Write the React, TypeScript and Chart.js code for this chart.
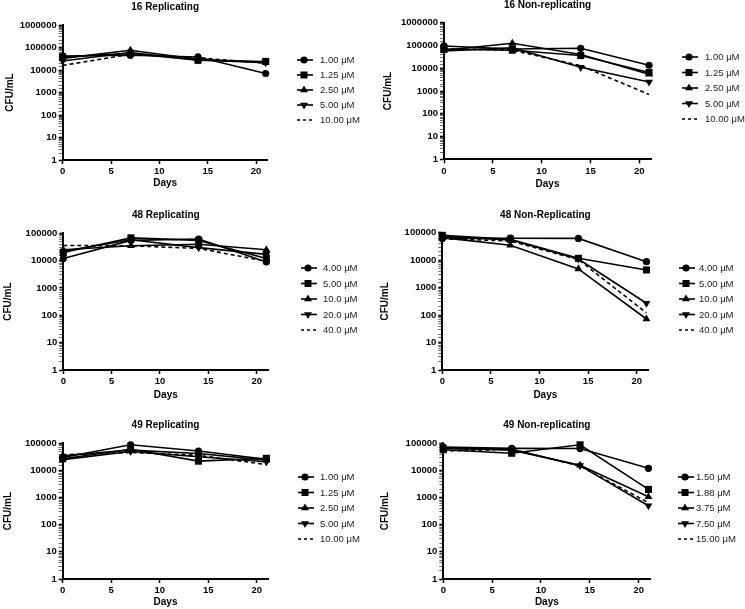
import React, { useEffect, useRef } from 'react';
import { Chart, registerables } from 'chart.js';

Chart.register(...registerables);

// ---------- data ----------
const DAYS = [0, 7, 14, 21];
const X_TICKS = [0, 5, 10, 15, 20];

const CONC_16 = ['1.00 μM', '1.25 μM', '2.50 μM', '5.00 μM', '10.00 μM'];
const CONC_48 = ['4.00 μM', '5.00 μM', '10.0 μM', '20.0 μM', '40.0 μM'];
const CONC_49R = ['1.00 μM', '1.25 μM', '2.50 μM', '5.00 μM', '10.00 μM'];
const CONC_49N = ['1.50 μM', '1.88 μM', '3.75 μM', '7.50 μM', '15.00 μM'];

// CFU/mL at days 0, 7, 14, 21 (one row per concentration)
const REP_16 = [
  [42000, 45000, 38000, 7000],
  [38000, 55000, 27000, 24000],
  [33000, 75000, 30000, 22000],
  [25000, 60000, 28000, 21000],
  [16000, 50000, 35000, 20000],
];
const NONREP_16 = [
  [95000, 70000, 75000, 13500],
  [70000, 62000, 36000, 6500],
  [62000, 125000, 40000, 5500],
  [58000, 78000, 11000, 2500],
  [72000, 62000, 13000, 700],
];
const REP_48 = [
  [12000, 55000, 62000, 9000],
  [20000, 68000, 55000, 12000],
  [25000, 35000, 40000, 25000],
  [22000, 58000, 30000, 17000],
  [36000, 35000, 28000, 9500],
];
const NONREP_48 = [
  [62000, 63000, 62000, 8800],
  [80000, 58000, 11700, 4400],
  [66000, 35000, 4800, 72],
  [72000, 55000, 11000, 270],
  [60000, 50000, 10500, 120],
];
const REP_49 = [
  [30000, 88000, 52000, 26000],
  [27000, 60000, 22000, 28000],
  [35000, 56000, 42000, 24000],
  [25000, 50000, 32000, 21000],
  [38000, 46000, 36000, 16500],
];
const NONREP_49 = [
  [72000, 65000, 64000, 12000],
  [58000, 43000, 88000, 2000],
  [68000, 56000, 15500, 1070],
  [63000, 60000, 15000, 500],
  [52000, 60000, 14500, 650],
];

const Y_MAX_16 = 1000000;
const Y_MAX_48 = 100000;
const Y_MAX_49 = 100000;

// ---------- layout / style ----------
const FONT = '"Liberation Sans", Arial, Helvetica, sans-serif';
const STYLES = [
  { pointStyle: 'circle', radius: 3.6, rotation: 0, dash: [] as number[] },
  { pointStyle: 'rect', radius: 5, rotation: 0, dash: [] as number[] },
  { pointStyle: 'triangle', radius: 4.6, rotation: 0, dash: [] as number[] },
  { pointStyle: 'triangle', radius: 4.6, rotation: 180, dash: [] as number[] },
  { pointStyle: 'circle', radius: 0, rotation: 0, dash: [4, 3] },
];

type Panel = {
  title: string;
  box: [number, number, number, number]; // x, y, w, h
  area: [number, number, number, number]; // l, t, r, b (page px)
  yMax: number;
  labels: string[];
  series: number[][];
  legend: { lx: number; tx: number; y0: number; dy: number };
  titleY: number;
  daysY: number;
  cfuX: number;
};

const PANELS: Panel[] = [
  {
    title: '16 Replicating', box: [0, 0, 370, 200], area: [62.7, 25, 267.6, 160],
    yMax: Y_MAX_16, labels: CONC_16, series: REP_16,
    legend: { lx: 297, tx: 320, y0: 60, dy: 15 }, titleY: 7, daysY: 183, cfuX: 10,
  },
  {
    title: '16 Non-replicating', box: [370, 0, 375, 200], area: [444, 22.7, 651, 159.3],
    yMax: Y_MAX_16, labels: CONC_16, series: NONREP_16,
    legend: { lx: 682, tx: 705, y0: 57, dy: 15.5 }, titleY: 5, daysY: 184, cfuX: 388,
  },
  {
    title: '48 Replicating', box: [0, 200, 370, 200], area: [63.3, 233.3, 268.3, 370],
    yMax: Y_MAX_48, labels: CONC_48, series: REP_48,
    legend: { lx: 301, tx: 323, y0: 268, dy: 15.5 }, titleY: 215, daysY: 395, cfuX: 8,
  },
  {
    title: '48 Non-Replicating', box: [370, 200, 375, 200], area: [442.3, 232.7, 648.4, 370],
    yMax: Y_MAX_48, labels: CONC_48, series: NONREP_48,
    legend: { lx: 679, tx: 699, y0: 268, dy: 15.5 }, titleY: 215, daysY: 395, cfuX: 385,
  },
  {
    title: '49 Replicating', box: [0, 400, 370, 209], area: [62.7, 443.3, 268.3, 579],
    yMax: Y_MAX_49, labels: CONC_49R, series: REP_49,
    legend: { lx: 298, tx: 320, y0: 477, dy: 15.5 }, titleY: 425, daysY: 602, cfuX: 8,
  },
  {
    title: '49 Non-replicating', box: [370, 400, 375, 209], area: [443.3, 443.3, 650.4, 579],
    yMax: Y_MAX_49, labels: CONC_49N, series: NONREP_49,
    legend: { lx: 678, tx: 696, y0: 477, dy: 15.5 }, titleY: 425, daysY: 602, cfuX: 385,
  },
];

const isPow10 = (v: number) => {
  const l = Math.log10(v);
  return Math.abs(l - Math.round(l)) < 1e-9;
};

function drawMarker(ctx: CanvasRenderingContext2D, i: number, x: number, y: number) {
  ctx.beginPath();
  if (i === 0) {
    ctx.arc(x, y, 3.6, 0, Math.PI * 2);
  } else if (i === 1) {
    ctx.rect(x - 3.5, y - 3.5, 7, 7);
  } else if (i === 2) {
    ctx.moveTo(x, y - 4.6);
    ctx.lineTo(x + 4, y + 2.3);
    ctx.lineTo(x - 4, y + 2.3);
    ctx.closePath();
  } else if (i === 3) {
    ctx.moveTo(x, y + 4.6);
    ctx.lineTo(x + 4, y - 2.3);
    ctx.lineTo(x - 4, y - 2.3);
    ctx.closePath();
  } else {
    return;
  }
  ctx.fillStyle = '#000';
  ctx.fill();
}

function makeDecor(p: Panel) {
  return {
    id: 'decor',
    afterDraw(chart: any) {
      const ctx: CanvasRenderingContext2D = chart.ctx;
      const ox = p.box[0];
      const oy = p.box[1];
      const ca = chart.chartArea;
      const midX = (ca.left + ca.right) / 2;
      const midY = (ca.top + ca.bottom) / 2;
      ctx.save();
      ctx.fillStyle = '#000';
      ctx.textAlign = 'center';
      ctx.textBaseline = 'middle';
      ctx.font = `bold 10px ${FONT}`;
      ctx.fillText(p.title, midX, p.titleY - oy);
      ctx.fillText('Days', midX, p.daysY - oy);
      ctx.save();
      ctx.translate(p.cfuX - ox, midY);
      ctx.rotate(-Math.PI / 2);
      ctx.font = `bold 10px ${FONT}`;
      ctx.fillText('CFU/mL', 0, 0);
      ctx.restore();

      // legend
      ctx.font = `9.5px ${FONT}`;
      ctx.textAlign = 'left';
      p.labels.forEach((lab, i) => {
        const y = p.legend.y0 + i * p.legend.dy - oy;
        const lx = p.legend.lx - ox;
        ctx.strokeStyle = '#000';
        ctx.lineWidth = 1.6;
        ctx.setLineDash(STYLES[i].dash.length ? [3, 3] : []);
        ctx.beginPath();
        ctx.moveTo(lx, y);
        ctx.lineTo(lx + 16, y);
        ctx.stroke();
        ctx.setLineDash([]);
        drawMarker(ctx, i, lx + 7, y);
        ctx.fillStyle = '#222';
        ctx.fillText(lab, p.legend.tx - ox, y + 0.5);
        ctx.fillStyle = '#000';
      });
      ctx.restore();
    },
  };
}

function PanelChart({ p }: { p: Panel }) {
  const ref = useRef<HTMLCanvasElement>(null);
  useEffect(() => {
    if (!ref.current) return;
    const [bx, by, bw, bh] = p.box;
    const [l, t, r, b] = p.area;
    const chart = new Chart(ref.current, {
      type: 'line',
      data: {
        datasets: p.series.map((vals, i) => ({
          label: p.labels[i],
          data: DAYS.map((d, j) => ({ x: d, y: vals[j] })),
          borderColor: '#000',
          backgroundColor: '#000',
          borderWidth: 1.6,
          borderDash: STYLES[i].dash,
          pointStyle: STYLES[i].pointStyle as any,
          pointRadius: STYLES[i].radius,
          pointRotation: STYLES[i].rotation,
          pointBorderWidth: 0,
          tension: 0,
          fill: false,
          clip: false,
        })),
      },
      options: {
        responsive: false,
        animation: false,
        layout: { padding: { left: 0, top: t - by, right: bx + bw - r, bottom: 0 } },
        plugins: {
          legend: { display: false },
          title: { display: false },
          tooltip: { enabled: false },
        },
        scales: {
          x: {
            type: 'linear',
            min: 0,
            max: 21.2,
            afterFit: (s: any) => { s.height = by + bh - b; },
            afterBuildTicks: (s: any) => {
              s.ticks = X_TICKS.map((v) => ({ value: v }));
            },
            ticks: {
              font: { family: FONT, size: 9.5, weight: 'bold' },
              color: '#000',
              padding: 2,
              maxRotation: 0,
            },
            grid: {
              drawOnChartArea: false,
              drawTicks: true,
              tickLength: 4,
              tickColor: '#000',
              tickWidth: 1.5,
            },
            border: { display: true, color: '#000', width: 2 },
          },
          y: {
            type: 'logarithmic',
            min: 1,
            max: p.yMax,
            afterFit: (s: any) => { s.width = l - bx; },
            ticks: {
              autoSkip: false,
              font: { family: FONT, size: 9.5, weight: 'bold' },
              color: '#000',
              padding: 2,
              callback: (v: any) => (isPow10(Number(v)) ? String(Math.round(Number(v))) : ''),
            },
            grid: {
              drawOnChartArea: false,
              drawTicks: true,
              tickLength: 4,
              tickColor: (c: any) => (c.tick && isPow10(c.tick.value) ? '#000' : '#444'),
              tickWidth: (c: any) => (c.tick && isPow10(c.tick.value) ? 1.6 : 0.8),
            },
            border: { display: true, color: '#000', width: 2 },
          },
        },
      } as any,
      plugins: [makeDecor(p)],
    });
    return () => chart.destroy();
  }, [p]);
  return (
    <canvas
      ref={ref}
      width={p.box[2]}
      height={p.box[3]}
      style={{
        position: 'absolute',
        left: p.box[0],
        top: p.box[1],
        width: p.box[2],
        height: p.box[3],
      }}
    />
  );
}

export default function App() {
  return (
    <div
      style={{
        position: 'fixed',
        left: 0,
        top: 0,
        width: 745,
        height: 609,
        background: '#fff',
        overflow: 'hidden',
      }}
    >
      {PANELS.map((p) => (
        <PanelChart key={p.title} p={p} />
      ))}
    </div>
  );
}
